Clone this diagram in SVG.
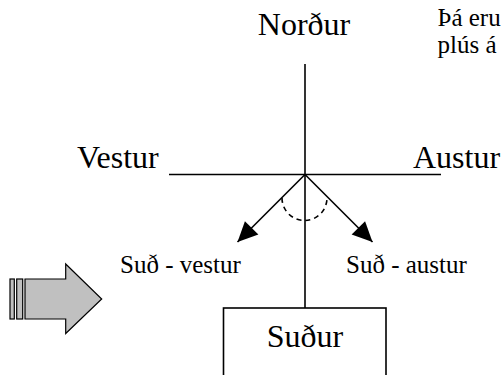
<svg xmlns="http://www.w3.org/2000/svg" width="504" height="375" viewBox="0 0 504 375">
<style>
  text { font-family: 'Liberation Serif', 'DejaVu Serif', serif; fill: #000; }
  .big { font-size: 32px; }
  .mid { font-size: 25px; }
  .note { font-size: 25px; }
  .ln { stroke: #000; stroke-width: 1.6; fill: none; }
</style>
<defs>
  <marker id="ah" markerUnits="userSpaceOnUse" markerWidth="24" markerHeight="24" viewBox="-22 -12 24 24" refX="0" refY="0" orient="auto">
    <path d="M0,0 L-20,-9.5 L-20,9.5 Z" fill="#000"/>
  </marker>
</defs>
<rect width="504" height="375" fill="#fff"/>

<g id="connectors">
  <line class="ln" x1="305" y1="64" x2="305" y2="309"/>
  <line class="ln" x1="169" y1="174.5" x2="441" y2="174.5"/>
  <line class="ln" x1="305" y1="174.5" x2="237.5" y2="242" marker-end="url(#ah)"/>
  <line class="ln" x1="305" y1="174.5" x2="372.5" y2="242" marker-end="url(#ah)"/>
  <path class="ln" d="M282,198 A22.5,22.5 0 0 0 327,198" stroke-dasharray="5,4"/>
</g>

<g font-family="Liberation Serif, DejaVu Serif, serif">
<g id="nordur"><text class="big" x="304" y="35" text-anchor="middle">Norður</text></g>
<g id="vestur"><text class="big" x="77" y="168">Vestur</text></g>
<g id="austur"><text class="big" x="413" y="168">Austur</text></g>
<g id="sudvestur"><text class="mid" x="120" y="273">Suð - vestur</text></g>
<g id="sudaustur"><text class="mid" x="346" y="273">Suð - austur</text></g>
<g id="note">
  <text class="note" x="437.5" y="26">Þá eru</text>
  <text class="note" x="437.5" y="53">plús á</text>
</g>
<g id="sudur">
  <rect x="223.5" y="308" width="162.5" height="69" fill="#fff" stroke="#000" stroke-width="1.6"/>
  <text class="big" x="305" y="346.5" text-anchor="middle">Suður</text>
</g>
</g>
<g id="blockarrow" fill="#c0c0c0" stroke="#000" stroke-width="1.2">
  <rect x="10" y="279" width="4.3" height="40"/>
  <rect x="16.7" y="279" width="6" height="40"/>
  <path d="M25,279 L65.7,279 L65.7,264 L101.7,299 L65.7,333.5 L65.7,319 L25,319 Z"/>
</g>
</svg>
